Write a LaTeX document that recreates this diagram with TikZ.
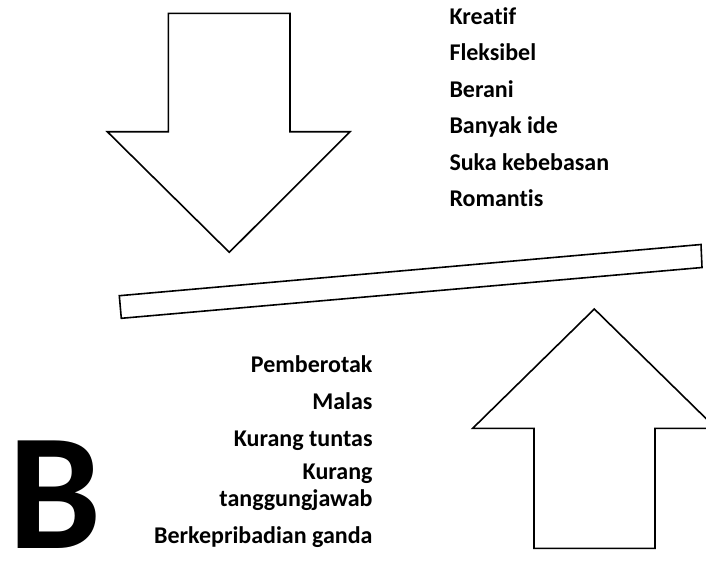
\documentclass[tikz,border=0pt]{standalone}
\usepackage{fontspec}
\setmainfont{Carlito}[Ligatures=NoCommon]
\begin{document}
\begin{tikzpicture}[x=1pt,y=-1pt,
  outlinebox/.style={draw=black,line width=1.6pt,fill=white,line join=miter},
  lbl/.style={font=\bfseries\fontsize{24}{28}\selectfont,inner sep=0pt},
  lbll/.style={lbl,anchor=base west},
  lblr/.style={lbl,anchor=base east}]
\useasboundingbox (0,0) rectangle (706,560);
% down arrow
\draw[outlinebox] (168.3,13.3) -- (290,13.3) -- (290,131.7) -- (350,131.7) -- (229.3,252.3) -- (107.3,131.7) -- (168.3,131.7) -- cycle;
% tilted bar
\draw[outlinebox] (119.3,295.7) -- (701,244.5) -- (702,267.5) -- (121.3,318.3) -- cycle;
% up arrow
\draw[outlinebox] (594.3,309) -- (716,428.3) -- (655,428.3) -- (655,548.3) -- (534,548.3) -- (534,428.3) -- (472.7,428.3) -- cycle;
% top list
\node[lbll] (t1) at (449.3,24) {Kreatif};
\node[lbll] (t2) at (449.3,60.5) {Fleksibel};
\node[lbll] (t3) at (449.3,97) {Berani};
\node[lbll] (t4) at (449.3,133.5) {Banyak ide};
\node[lbll] (t5) at (449.3,170) {Suka kebebasan};
\node[lbll] (t6) at (449.3,206.5) {Romantis};
% bottom list
\node[lblr] (b1) at (372.7,372) {Pemberotak};
\node[lblr] (b2) at (372.7,409) {Malas};
\node[lblr] (b3) at (372.7,446) {Kurang tuntas};
\node[lblr] (b4) at (372.7,479.5) {Kurang};
\node[lblr] (b5) at (372.7,506) {tanggungjawab};
\node[lblr] (b6) at (372.7,543) {Berkepribadian ganda};
% big letter
\node[inner sep=0pt,anchor=base west,font=\bfseries\fontsize{166}{166}\selectfont] (B) at (8,548.3) {B};
\end{tikzpicture}
\end{document}
